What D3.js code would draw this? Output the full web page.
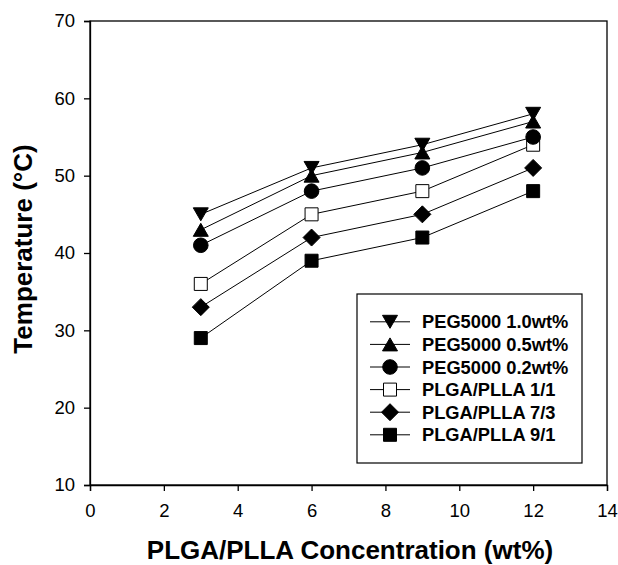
<!DOCTYPE html>
<html>
<head>
<meta charset="utf-8">
<script src="https://cdn.jsdelivr.net/npm/d3@7"></script>
<style>
  body { margin: 0; background: #fff; }
  svg { display: block; font-family: "Liberation Sans", Arial, sans-serif; }
</style>
</head>
<body>
<div id="chart"></div>
<script>
// Temperature vs PLGA/PLLA concentration
const xValues = [3, 6, 9, 12];
const seriesNames = ["PEG5000 1.0wt%", "PEG5000 0.5wt%", "PEG5000 0.2wt%",
                     "PLGA/PLLA 1/1", "PLGA/PLLA 7/3", "PLGA/PLLA 9/1"];
const peg10 = [45, 51, 54, 58];
const peg05 = [43, 50, 53, 57];
const peg02 = [41, 48, 51, 55];
const ratio11 = [36, 45, 48, 54];
const ratio73 = [33, 42, 45, 51];
const ratio91 = [29, 39, 42, 48];
const xTicks = [0, 2, 4, 6, 8, 10, 12, 14];
const yTicks = [10, 20, 30, 40, 50, 60, 70];

const series = [
  { name: seriesNames[0], values: peg10, symbol: "down", fill: "#000" },
  { name: seriesNames[1], values: peg05, symbol: "up", fill: "#000" },
  { name: seriesNames[2], values: peg02, symbol: "circle", fill: "#000" },
  { name: seriesNames[3], values: ratio11, symbol: "square", fill: "#fff" },
  { name: seriesNames[4], values: ratio73, symbol: "diamond", fill: "#000" },
  { name: seriesNames[5], values: ratio91, symbol: "square", fill: "#000" }
];

const svg = d3.select("#chart")
  .append("svg")
  .attr("width", 618)
  .attr("height", 565);

const margin = { top: 21, right: 11, bottom: 80, left: 90 },
      width = 618 - margin.left - margin.right,
      height = 565 - margin.top - margin.bottom;

const g = svg.append("g")
  .attr("transform", `translate(${margin.left},${margin.top})`);

const xScale = d3.scaleLinear().domain([0, 14]).range([0, width]);
const yScale = d3.scaleLinear().domain([10, 70]).range([height, 0]);

// frame
g.append("rect")
  .attr("width", width)
  .attr("height", height)
  .attr("fill", "none")
  .attr("stroke", "#000")
  .attr("stroke-width", 1.3);

// axes
const xAxis = g.append("g")
  .attr("transform", `translate(0,${height})`)
  .call(d3.axisBottom(xScale).tickValues(xTicks).tickSize(6).tickPadding(13));
const yAxis = g.append("g")
  .call(d3.axisLeft(yScale).tickValues(yTicks).tickSize(6).tickPadding(9));

[xAxis, yAxis].forEach(ax => {
  ax.select(".domain").attr("stroke-width", 1.3);
  ax.selectAll(".tick line").attr("stroke-width", 1.3);
  ax.selectAll("text")
    .attr("font-size", 18.5)
    .attr("font-family", "Liberation Sans, Arial, sans-serif")
    .attr("fill", "#000");
});

// axis titles
svg.append("text")
  .attr("x", 350)
  .attr("y", 559)
  .attr("text-anchor", "middle")
  .attr("font-size", 26)
  .attr("font-weight", "bold")
  .text("PLGA/PLLA Concentration (wt%)");

svg.append("text")
  .attr("transform", `translate(32,249) rotate(-90)`)
  .attr("text-anchor", "middle")
  .attr("font-size", 26)
  .attr("font-weight", "bold")
  .text("Temperature (°C)");

// marker shapes (pixel sizes)
const shapes = {
  down: "M-7.5,-6.5L7.5,-6.5L0,6.5Z",
  up: "M-7.5,6.5L7.5,6.5L0,-6.5Z",
  circle: d3.symbol().type(d3.symbolCircle).size(Math.PI * 7.3 * 7.3)(),
  square: "M-6.5,-6.5H6.5V6.5H-6.5Z",
  diamond: "M0,-8.5L8.5,0L0,8.5L-8.5,0Z"
};

function drawSymbol(sel, s, x, y) {
  sel.append("path")
    .attr("d", shapes[s.symbol])
    .attr("transform", `translate(${x},${y})`)
    .attr("fill", s.fill)
    .attr("stroke", "#000")
    .attr("stroke-width", 1);
}

const line = d3.line()
  .x((d, i) => xScale(xValues[i]))
  .y(d => yScale(d));

series.forEach(s => {
  g.append("path")
    .datum(s.values)
    .attr("fill", "none")
    .attr("stroke", "#000")
    .attr("stroke-width", 1)
    .attr("d", line);
});

// draw markers bottom-up so upper series sit on top
series.slice().reverse().forEach(s => {
  s.values.forEach((v, i) => drawSymbol(g, s, xScale(xValues[i]), yScale(v)));
});

// legend
const legend = svg.append("g").attr("transform", "translate(357,294)");
legend.append("rect")
  .attr("width", 225)
  .attr("height", 169)
  .attr("fill", "#fff")
  .attr("stroke", "#000")
  .attr("stroke-width", 1.2);

series.forEach((s, i) => {
  const y = 27.8 + i * 22.6;
  legend.append("line")
    .attr("x1", 13).attr("x2", 53)
    .attr("y1", y).attr("y2", y)
    .attr("stroke", "#000")
    .attr("stroke-width", 1);
  drawSymbol(legend, s, 33, y);
  legend.append("text")
    .attr("x", 65)
    .attr("y", y + 6.5)
    .attr("font-size", 18.3)
    .attr("font-weight", "bold")
    .text(s.name);
});
</script>
</body>
</html>
